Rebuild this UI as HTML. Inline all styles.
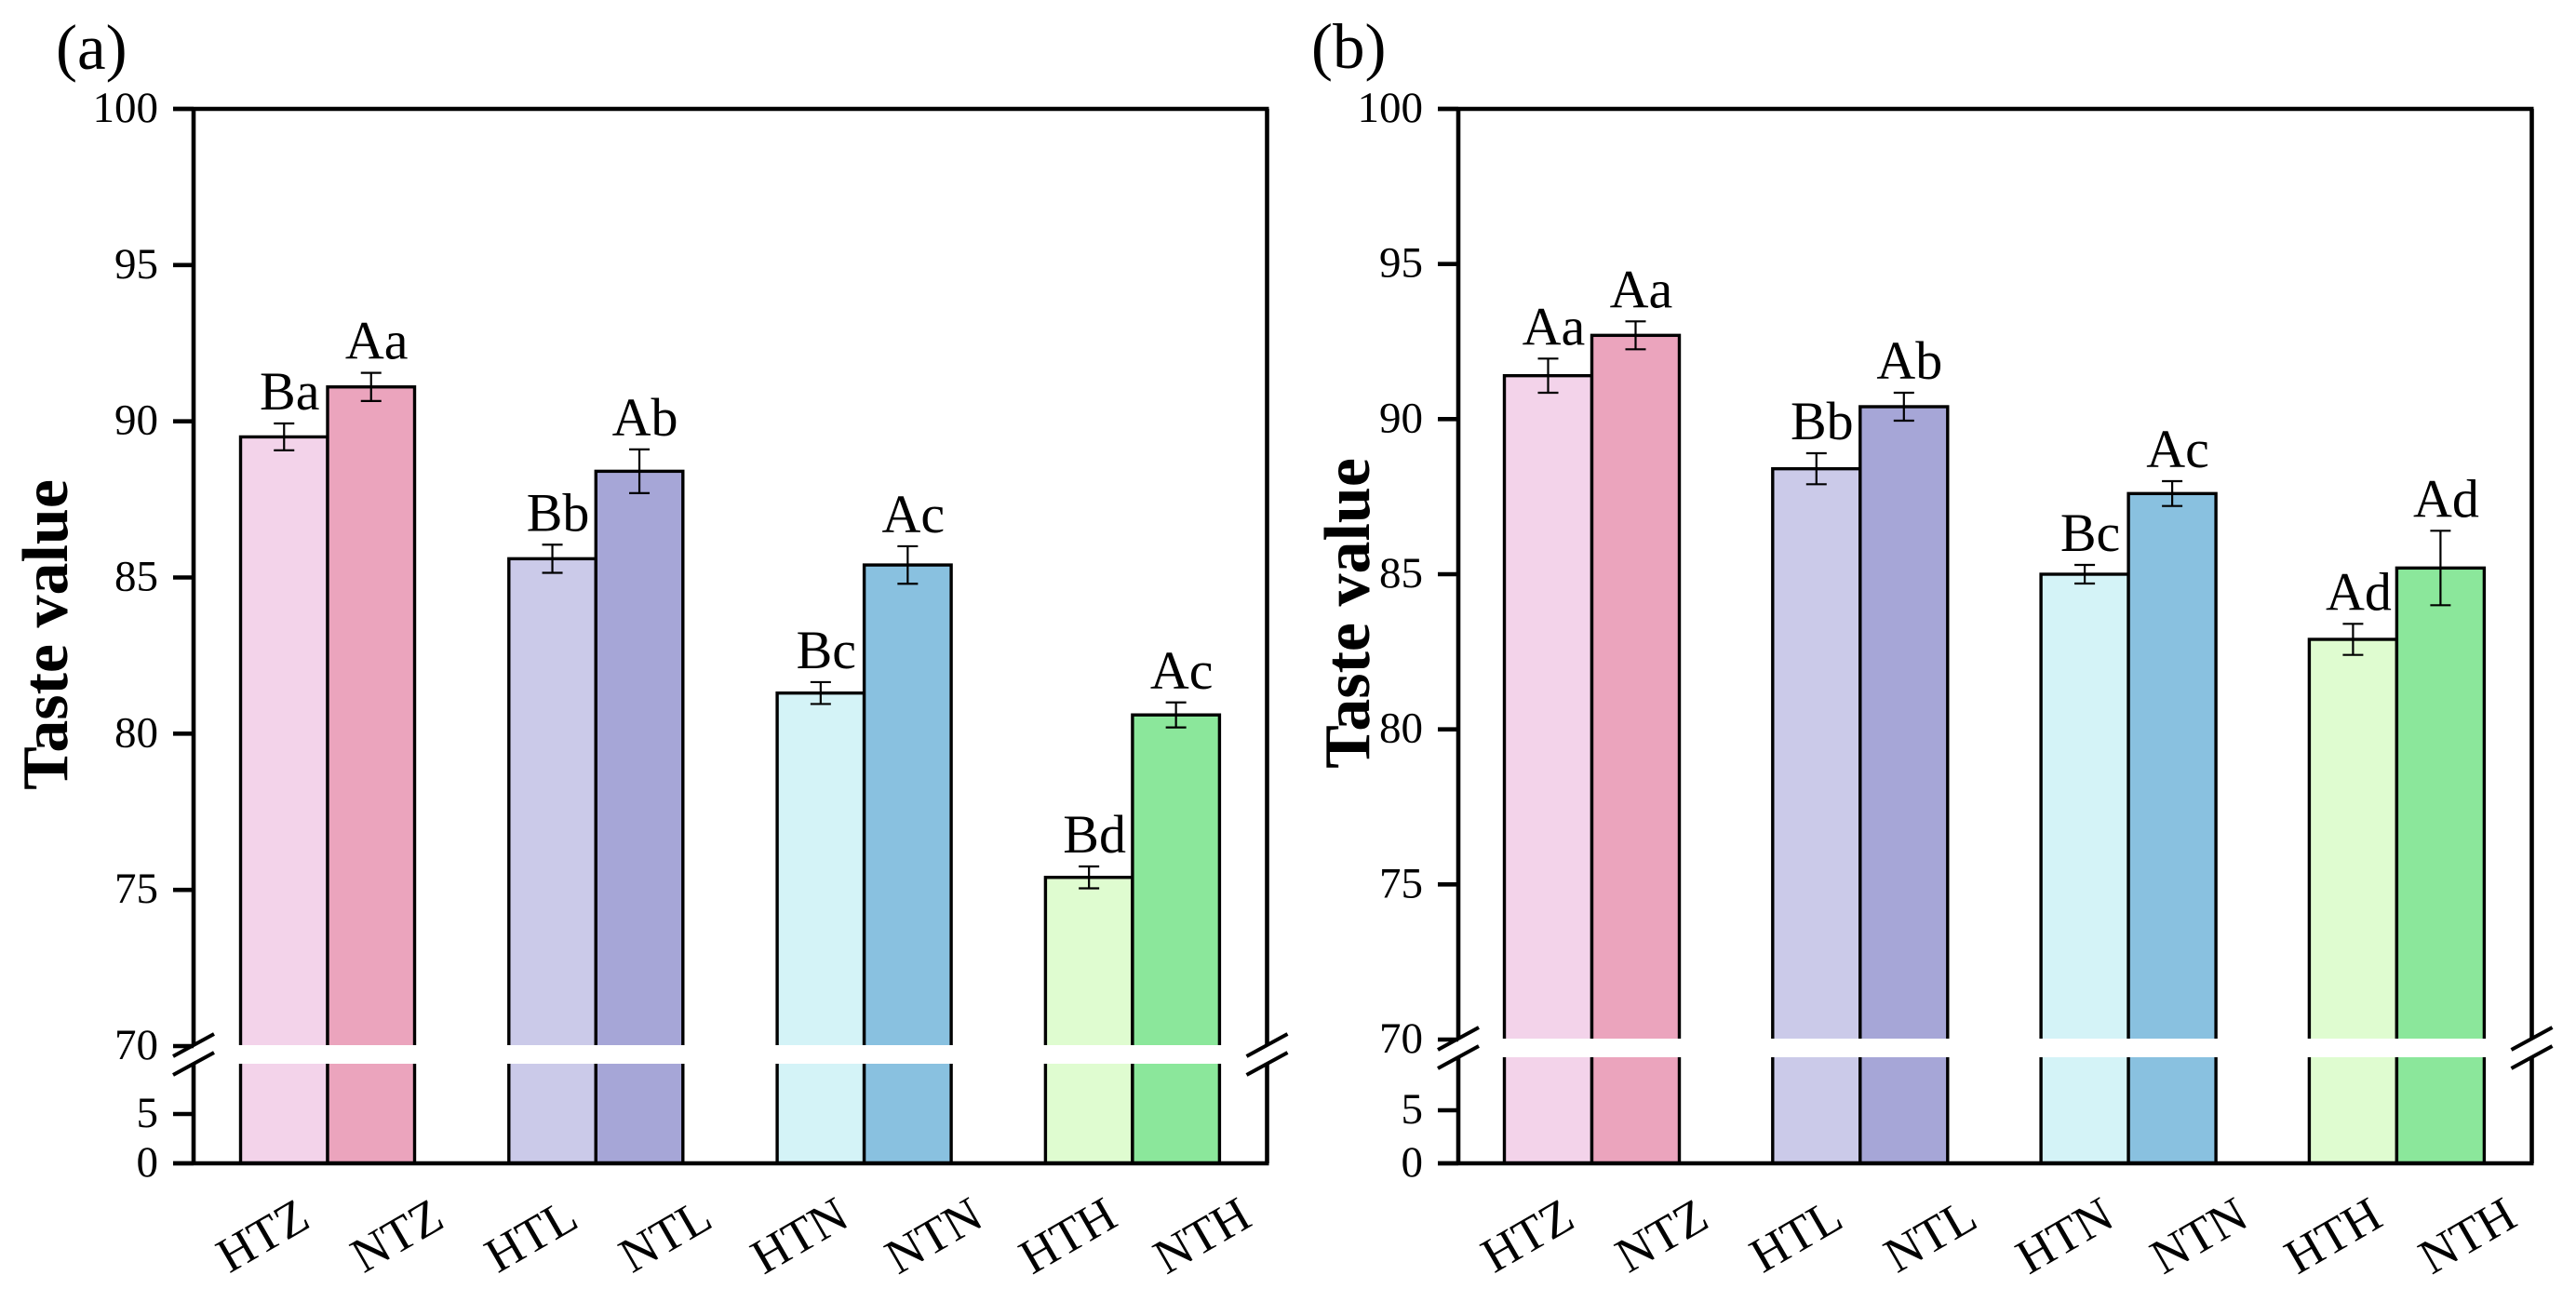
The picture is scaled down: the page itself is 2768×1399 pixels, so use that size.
<!DOCTYPE html>
<html lang="en">
<head>
<meta charset="utf-8">
<title>Taste value bar charts</title>
<style>
html,body{margin:0;padding:0;background:#fff;}
svg{display:block;}
text{font-family:"Liberation Serif",serif;fill:#000;}
</style>
</head>
<body>
<svg id="chart" xmlns="http://www.w3.org/2000/svg" width="2768" height="1399" viewBox="0 0 2768 1399"></svg>
<script>
const categories = ['HTZ','NTZ','HTL','NTL','HTN','NTN','HTH','NTH'];
const barColors = ['#F3D3EA','#EBA4BD','#CBCAE9','#A6A6D7','#D4F3F7','#89C1E0','#DFFCD0','#8BE79B'];
const valuesA = [89.5,91.1,85.6,88.4,81.3,85.4,75.4,80.6];
const errorsA = [0.43,0.45,0.45,0.7,0.35,0.6,0.35,0.4];
const lettersA = ['Ba','Aa','Bb','Ab','Bc','Ac','Bd','Ac'];
const valuesB = [91.4,92.7,88.4,90.4,85.0,87.6,82.9,85.2];
const errorsB = [0.55,0.45,0.5,0.45,0.3,0.4,0.5,1.2];
const lettersB = ['Aa','Aa','Bb','Ab','Bc','Ac','Ad','Ad'];
const upperTicks = [100,95,90,85,80,75,70];
const lowerTicks = [5,0];

const svg = document.getElementById('chart');
const NS = 'http://www.w3.org/2000/svg';

function mk(parent, tag, attrs, text){
  const el = document.createElementNS(NS, tag);
  for(const k in attrs){ el.setAttribute(k, attrs[k]); }
  if(text !== undefined){ el.textContent = text; }
  parent.appendChild(el);
  return el;
}

function drawPanel(cfg){
  const g = mk(svg,'g',{});
  
  

  function y(v){
    if(v >= 70){ return cfg.y70 - (v - 70) * (cfg.y70 - cfg.y100) / 30; }
    return cfg.y0 - v * (cfg.y0 - cfg.y5) / 5;
  }
  function barLeft(i){
    return cfg.firstBar + Math.floor(i / 2) * cfg.pitch + (i % 2) * cfg.barW;
  }
  const lineW = 4.6, sw = 3.4;

  // bars
  cfg.values.forEach(function(v, i){
    const x = barLeft(i);
    const bar = mk(g,'rect',{x:x, y:y(v), width:cfg.barW, height:cfg.y0 - y(v), fill:barColors[i], stroke:'#000', 'stroke-width':sw});
    
    
  });

  // white break band through the bars
  const band = mk(g,'rect',{x:cfg.left + 10, y:cfg.gapTop, width:cfg.right - cfg.left - 20, height:cfg.gapBottom - cfg.gapTop, fill:'#fff'});
  
  

  // error bars and significance letters
  cfg.values.forEach(function(v, i){
    const cx = barLeft(i) + cfg.barW / 2;
    const e = cfg.errors[i];
    const err = mk(g,'path',{d:'M' + (cx-11) + ' ' + y(v+e) + 'H' + (cx+11) + 'M' + cx + ' ' + y(v+e) + 'V' + y(v-e) + 'M' + (cx-11) + ' ' + y(v-e) + 'H' + (cx+11), fill:'none', stroke:'#000', 'stroke-width':2.2});
    
    
    const lab = mk(g,'text',{x:cx + 6, y:y(v+e) - 15, 'text-anchor':'middle', 'font-size':58}, cfg.letters[i]);
    
    
  });

  // axes frame
  const frame = mk(g,'path',{d:
    'M' + cfg.tickStart + ' ' + cfg.y100 + 'H' + (cfg.right + 2) +
    'M' + cfg.left + ' ' + cfg.y100 + 'V' + (cfg.gapTop + 1) +
    'M' + cfg.left + ' ' + (cfg.gapBottom - 1) + 'V' + cfg.y0 +
    'M' + cfg.right + ' ' + cfg.y100 + 'V' + (cfg.gapTop + 1) +
    'M' + cfg.right + ' ' + (cfg.gapBottom - 1) + 'V' + cfg.y0 +
    'M' + cfg.tickStart + ' ' + cfg.y0 + 'H' + (cfg.right + 2),
    fill:'none', stroke:'#000', 'stroke-width':lineW});
  
  

  // y ticks and labels
  upperTicks.concat(lowerTicks).forEach(function(t){
    const yy = y(t);
    const tick = mk(g,'line',{x1:cfg.tickStart, x2:cfg.left, y1:yy, y2:yy, stroke:'#000', 'stroke-width':lineW});
    
    
    const lbl = mk(g,'text',{x:cfg.left - 38, y:yy + 14, 'text-anchor':'end', 'font-size':47}, String(t));
    
    
  });

  // axis break slashes
  [cfg.left, cfg.right].forEach(function(ax, side){
    [0, 1].forEach(function(n){
      const off = n * (cfg.gapBottom - cfg.gapTop);
      const sl = mk(g,'line',{x1:ax - 22, y1:cfg.gapTop + 12 + off, x2:ax + 22, y2:cfg.gapTop - 12 + off, stroke:'#000', 'stroke-width':4});
      
      
    });
  });

  // x labels
  categories.forEach(function(c, i){
    const cx = cfg.firstLabel + i * cfg.labelPitch;
    const t = mk(g,'text',{x:cx, y:1329 + 16, 'text-anchor':'middle', 'font-size':53, transform:'rotate(-30 ' + cx + ' 1329)'}, c);
    
    
  });

  // y axis title
  const yt = mk(g,'text',{x:0, y:0, 'text-anchor':'middle', 'font-size':70, 'font-weight':'bold', transform:'translate(' + cfg.titleX + ' ' + cfg.titleY + ') rotate(-90)'}, 'Taste value');
  
  

  // panel letter
  const pl = mk(g,'text',{x:cfg.tagX, y:cfg.tagY, 'font-size':69}, '(' + cfg.id + ')');
  
  
}

drawPanel({id:'a', values:valuesA, errors:errorsA, letters:lettersA,
  left:208, right:1361.5, tickStart:186, y100:117, y70:1124, y5:1197, y0:1250,
  gapTop:1123, gapBottom:1143, firstBar:258.5, barW:93.5, pitch:288.3,
  firstLabel:283, labelPitch:144.2, titleX:72, titleY:682, tagX:60, tagY:74});
drawPanel({id:'b', values:valuesB, errors:errorsB, letters:lettersB,
  left:1567, right:2720.5, tickStart:1545, y100:117, y70:1117, y5:1193, y0:1250,
  gapTop:1116, gapBottom:1136, firstBar:1616.5, barW:94, pitch:288.3,
  firstLabel:1642, labelPitch:144.3, titleX:1471, titleY:659, tagX:1409, tagY:73});
</script>
</body>
</html>
